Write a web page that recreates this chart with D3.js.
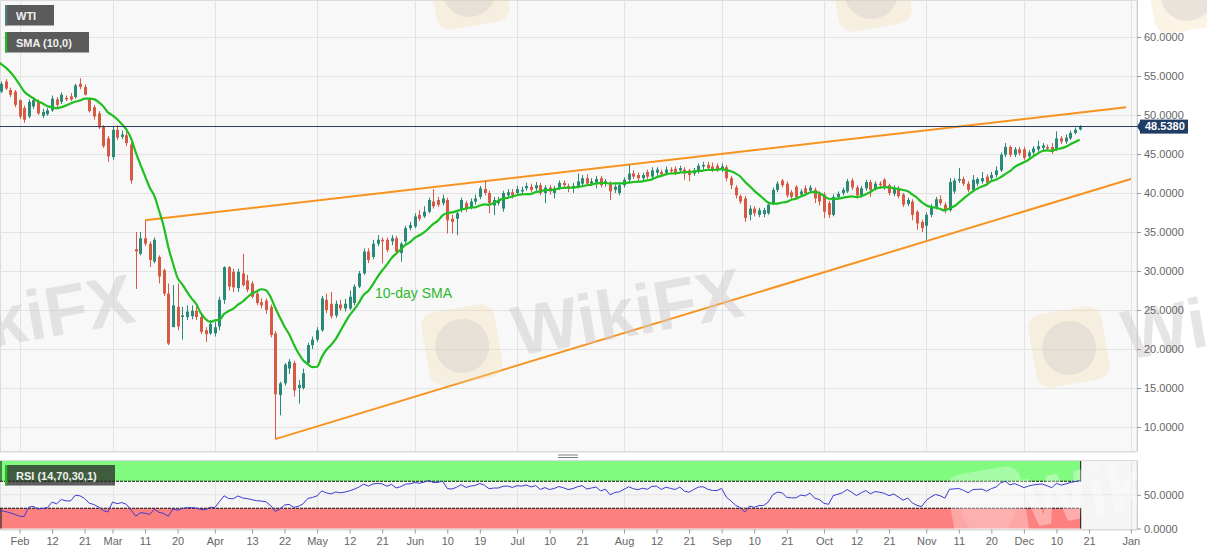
<!DOCTYPE html>
<html>
<head>
<meta charset="utf-8">
<script src="https://cdn.jsdelivr.net/npm/d3@7"></script>
<style>
  html, body { margin: 0; padding: 0; background: #fff; }
  svg { display: block; font-family: "Liberation Sans", Arial, sans-serif; }
</style>
</head>
<body>
<svg id="chart" width="1207" height="555"></svg>
<script>
// daily WTI candles, [open, high, low, close], one row per weekday
const jan = [
  [61.1,61.6,60.6,61.18],[61.2,64.1,61.1,63.05],[63.1,64.7,62.9,63.27],[63.3,63.8,62.3,62.70],
  [62.7,65.6,59.2,59.61],[59.6,60.2,58.9,59.56],[59.6,59.9,58.9,59.04],[59.0,59.2,57.8,58.08],
  [58.1,58.7,57.6,58.23],[58.2,58.5,57.3,57.81],[57.8,58.8,57.7,58.52],[58.5,59.0,58.3,58.54],
  [58.5,59.3,58.4,58.60],[58.6,59.7,57.7,58.34],[58.3,58.4,56.4,56.74],[56.7,56.8,54.8,55.59],
  [55.6,55.9,53.9,54.19],[53.4,53.6,52.1,53.14],[53.0,54.3,52.8,54.0],[54.3,54.6,53.2,53.4],
  [53.2,53.5,52.3,52.6],[53.0,53.2,51.0,51.3]
];
const feb = [
  [51.9,52.0,49.5,49.8],[50.9,51.2,49.0,49.4],[49.8,52.0,49.6,51.7],[51.1,52.3,50.8,51.9],
  [51.7,52.0,50.0,50.2],[49.9,50.8,49.6,50.4],[50.1,50.9,49.9,50.6],[50.6,52.5,50.4,52.1],
  [52.0,52.3,51.0,51.3],[51.7,52.9,51.4,52.6],[52.2,52.5,51.8,52.0],[52.4,52.8,51.8,52.0],
  [52.3,54.0,52.1,53.8],[54.0,54.7,53.3,53.6],[53.6,53.9,52.5,52.6],[52.0,52.2,50.3,50.5],
  [51.0,51.3,49.4,49.8],[50.2,50.5,48.2,48.4],[48.5,48.7,45.8,46.0],[47.0,47.3,44.0,44.7]
];
const mar = [
  [44.6,48.6,44.3,48.1],[48.1,48.7,46.8,47.1],[47.2,48.0,46.9,47.5],[47.4,47.8,46.0,46.4],
  [46.2,46.5,41.2,41.6],[32.8,35.0,27.7,32.5],[32.2,35.0,32.0,34.2],[34.2,36.5,33.2,33.5],
  [33.5,33.8,30.5,31.4],[31.2,34.3,31.0,34.0],[31.8,32.0,28.4,29.3],[30.1,30.3,26.8,27.1],
  [27.1,28.4,20.5,20.7],[22.8,28.2,22.8,25.6],[25.4,28.4,22.4,22.9],[24.1,25.4,21.2,24.3],
  [24.1,25.6,23.7,24.8],[24.2,25.6,23.8,24.9],[24.9,25.4,23.7,24.1],[24.1,24.4,21.9,22.2],
  [22.4,22.8,20.9,21.9],[22.0,23.7,21.8,23.2]
];
const apr = [
  [22.0,23.5,21.6,22.8],[22.9,26.7,22.4,26.3],[26.3,30.6,25.8,30.5],[30.5,30.6,27.5,28.0],
  [29.9,30.3,27.3,27.9],[27.8,30.3,27.3,29.9],[29.7,32.2,28.0,28.2],[28.8,29.5,27.3,27.6],
  [28.4,28.7,26.5,26.7],[27.1,27.5,25.6,25.9],[26.0,26.5,25.2,25.6],[26.2,26.5,24.5,25.0],
  [25.4,25.7,21.5,21.8],[22.0,22.3,8.45,14.2],[14.1,15.8,11.5,15.6],[15.6,18.2,15.3,18.0],
  [17.5,18.7,16.8,18.4],[18.2,18.5,13.9,14.7],[15.0,16.0,13.0,15.4],[15.0,17.5,14.8,16.9],
  [18.2,20.8,17.9,20.5],[20.5,21.6,20.0,21.2]
];
const may = [
  [21.2,22.8,20.9,22.4],[22.4,26.8,22.2,26.5],[26.3,27.1,24.6,25.0],[25.8,27.3,23.9,24.2],
  [24.3,26.2,24.0,25.8],[25.7,26.3,24.9,25.2],[25.2,26.4,24.8,25.8],[25.2,27.5,25.0,26.7],
  [25.9,28.3,25.6,28.0],[28.0,30.0,27.8,29.7],[29.7,32.9,29.5,32.5],[32.5,32.9,31.0,31.4],
  [31.8,34.0,31.5,33.5],[33.5,34.6,33.2,34.0],[34.0,34.3,31.0,33.8],[34.0,34.3,32.4,32.7],
  [33.8,34.6,33.3,34.2],[34.2,34.5,32.2,32.5],[32.3,33.7,31.2,33.5],[33.8,35.8,33.5,35.5],
  [35.5,36.3,35.2,35.9]
];
const jun = [
  [35.7,37.4,35.5,37.0],[37.2,37.8,36.4,36.7],[37.0,38.3,36.8,37.6],[37.6,39.4,37.4,39.1],
  [38.9,40.5,38.0,38.3],[39.1,39.5,38.2,38.5],[38.7,39.8,38.4,39.3],[39.1,39.4,34.8,36.5],
  [36.7,37.2,34.8,36.3],[36.7,37.8,34.6,37.4],[37.8,39.4,37.5,39.1],[38.7,39.0,37.6,38.0],
  [38.2,39.3,37.9,38.9],[38.9,39.8,38.5,39.3],[39.5,40.9,39.2,40.6],[40.5,41.6,39.7,40.0],
  [40.0,40.3,37.4,38.7],[38.4,39.5,37.2,39.1],[38.7,39.5,38.4,39.1],[38.0,40.3,37.6,40.0],
  [39.7,40.5,39.4,40.1],[40.1,40.5,39.3,39.7]
];
const jul = [
  [40.0,40.9,39.7,40.5],[40.2,40.8,39.9,40.4],[40.6,41.3,40.3,40.9],[40.8,41.2,40.1,40.4],
  [40.6,41.4,40.3,41.0],[41.0,41.3,39.7,40.0],[40.0,41.0,38.7,40.7],[40.7,41.0,39.8,40.2],
  [40.0,40.9,39.3,40.6],[40.7,41.6,40.4,41.3],[41.3,41.6,40.7,41.0],[40.9,41.2,40.1,40.6],
  [40.7,41.3,40.0,40.9],[40.9,42.5,40.6,41.5],[41.2,42.3,40.9,41.9],[41.9,42.4,40.9,41.2],
  [41.2,41.9,40.9,41.5],[41.4,42.2,40.6,41.8],[41.9,42.2,40.7,41.0],[41.2,41.8,40.8,41.5],
  [41.2,41.5,39.1,40.2],[40.4,41.1,40.0,40.8],[40.0,41.3,39.7,41.0]
];
const aug = [
  [41.0,42.0,40.7,41.7],[41.7,43.6,41.4,42.5],[42.5,42.9,41.8,42.1],[42.3,42.6,41.6,41.9],
  [41.9,42.6,41.6,42.3],[42.7,43.0,41.8,42.1],[42.1,43.3,41.8,42.9],[42.6,43.3,42.2,43.0],
  [42.7,43.0,42.1,42.4],[42.6,43.4,42.3,43.0],[43.0,43.3,42.5,42.8],[43.1,43.4,42.3,42.6],
  [42.9,43.5,42.6,43.2],[43.0,43.3,41.7,42.5],[42.9,43.1,41.5,42.3],[42.5,43.2,42.2,42.9],
  [42.8,43.8,42.5,43.5],[43.4,44.0,43.0,43.6],[43.6,44.0,42.9,43.2],[43.4,43.9,42.7,43.0],
  [43.5,43.8,42.7,43.0]
];
const sep = [
  [43.0,43.8,42.7,43.4],[43.3,43.6,41.5,41.9],[41.9,42.2,40.5,41.0],[40.7,41.0,39.3,39.7],
  [39.6,39.8,38.6,38.9],[39.3,39.6,36.3,36.8],[37.2,38.4,36.5,38.0],[38.0,38.3,37.0,37.4],
  [37.2,38.1,36.9,37.8],[37.3,38.1,36.9,37.8],[37.4,38.7,37.2,38.5],[38.7,40.7,38.5,40.4],
  [40.4,41.5,40.1,41.2],[41.6,41.8,40.7,41.0],[41.2,41.5,39.4,39.7],[40.1,40.4,39.2,39.5],
  [40.8,41.0,39.2,39.5],[39.8,40.5,39.5,40.2],[40.6,41.0,39.7,40.0],[40.3,41.0,40.0,40.7],
  [40.4,40.7,38.7,39.3],[39.9,40.2,38.4,38.9]
];
const oct = [
  [39.8,40.1,36.8,37.6],[38.7,39.0,36.8,37.2],[37.2,39.8,37.0,39.5],[39.5,40.2,39.2,39.9],
  [40.0,40.7,39.7,40.4],[40.2,41.8,40.0,41.5],[41.6,41.9,40.4,40.7],[40.7,41.0,39.3,39.7],
  [39.7,40.9,39.4,40.6],[40.6,41.7,40.3,41.4],[41.4,41.7,39.5,40.4],[40.6,41.5,40.3,41.2],
  [41.2,41.5,40.7,41.0],[41.7,41.9,40.4,40.7],[41.0,41.2,39.7,40.0],[39.9,41.0,39.6,40.5],
  [40.6,40.9,39.3,39.6],[39.8,40.0,38.2,38.5],[38.6,39.4,38.3,39.1],[38.9,39.2,36.5,37.2],
  [37.6,37.8,35.3,36.1],[36.3,36.6,35.0,35.5]
];
const nov = [
  [35.8,37.5,34.0,37.2],[37.2,38.6,36.9,38.3],[38.2,39.5,37.9,39.2],[39.2,39.7,38.4,38.7],
  [38.5,38.8,37.4,37.8],[37.8,41.9,37.6,41.4],[40.2,41.9,39.9,41.6],[41.6,43.2,41.3,41.8],
  [41.8,42.1,40.9,41.2],[41.2,41.5,40.1,40.4],[40.4,42.3,40.1,41.7],[41.2,42.0,40.9,41.8],
  [41.5,42.7,41.2,41.9],[42.1,42.4,41.0,41.3],[41.9,42.7,41.6,42.3],[42.3,43.4,42.0,42.9],
  [42.9,45.2,42.7,44.9],[44.9,46.4,44.6,45.9],[45.9,46.1,44.6,44.9],[44.9,45.9,44.6,45.6],
  [45.6,45.9,44.8,45.1]
];
const dec = [
  [45.6,45.9,44.2,44.5],[44.7,45.5,44.4,45.2],[45.2,46.0,44.9,45.7],[45.6,46.7,45.3,46.0],
  [45.8,46.4,45.5,46.1],[45.9,46.2,45.4,45.7],[45.9,46.4,45.0,45.3],[45.7,47.9,45.4,47.0],
  [47.0,47.3,46.3,46.6],[46.6,47.5,46.3,47.1],[47.0,48.0,46.8,47.7],[47.7,48.4,47.5,48.1],
  [48.15,48.7,48.0,48.538]
];

const priceTicks = [10, 15, 20, 25, 30, 35, 40, 45, 50, 55, 60];
const rsiTicks = [0, 50];
const tickDates = ["2020-02-03","2020-02-12","2020-02-21","2020-03-02","2020-03-11","2020-03-20",
  "2020-04-01","2020-04-13","2020-04-22","2020-05-01","2020-05-12","2020-05-21","2020-06-01",
  "2020-06-10","2020-06-19","2020-07-01","2020-07-10","2020-07-21","2020-08-03","2020-08-12",
  "2020-08-21","2020-09-01","2020-09-10","2020-09-21","2020-10-01","2020-10-12","2020-10-21",
  "2020-11-02","2020-11-11","2020-11-20","2020-12-01","2020-12-10","2020-12-21","2021-01-01"];
const tickLabels = ["Feb","12","21","Mar","11","20","Apr","13","22","May","12","21","Jun","10","19",
  "Jul","10","21","Aug","12","21","Sep","10","21","Oct","12","21","Nov","11","20","Dec","10","21","Jan"];
const monthStarts = ["2020-02-03","2020-03-02","2020-04-01","2020-05-01","2020-06-01","2020-07-01",
  "2020-08-03","2020-09-01","2020-10-01","2020-11-02","2020-12-01","2021-01-01"];
// trend lines: [date, price] end points
const upperLine = [["2020-03-11", 36.5], ["2020-12-31", 51.0]];
const lowerLine = [["2020-04-20", 8.45], ["2021-01-01", 41.8]];

// weekday calendar the bars sit on
const dates = [];
for (let d = new Date(2020, 0, 2); d <= new Date(2021, 0, 8); d.setDate(d.getDate() + 1)) {
  if (d.getDay() !== 0 && d.getDay() !== 6) dates.push(new Date(d));
}
const fmt = d3.timeFormat("%Y-%m-%d");
const idx = s => dates.findIndex(d => fmt(d) === s);

const bars = [].concat(jan, feb, mar, apr, may, jun, jul, aug, sep, oct, nov, dec)
  .map((r, k) => ({k: k, o: r[0], h: r[1], l: r[2], c: r[3]}));
const closes = bars.map(b => b.c);

function sma(vals, n) {
  return vals.map((v, k) => k < n - 1 ? null : d3.mean(vals.slice(k - n + 1, k + 1)));
}
function rsi(vals, n) {
  const out = vals.map(() => null);
  let g = 0, l = 0;
  for (let k = 1; k <= n; k++) {
    const ch = vals[k] - vals[k - 1];
    if (ch > 0) g += ch; else l -= ch;
  }
  g /= n; l /= n;
  out[n] = 100 - 100 / (1 + g / l);
  for (let k = n + 1; k < vals.length; k++) {
    const ch = vals[k] - vals[k - 1];
    g = (g * (n - 1) + Math.max(ch, 0)) / n;
    l = (l * (n - 1) + Math.max(-ch, 0)) / n;
    out[k] = l === 0 ? 100 : 100 - 100 / (1 + g / l);
  }
  return out;
}
const smaVals = sma(closes, 10);
const rsiVals = rsi(closes, 14);

const plotR = 1137;
const mainTop = 0, mainBot = 451.5, rsiTop = 461, rsiBot = 529.5;
const upCol = "#2a8a77", downCol = "#d65a44";

const k0 = idx("2020-02-03");
const x = d3.scaleLinear().domain([k0, k0 + 239]).range([19.5, 19.5 + 239 * 4.65]);
const y = d3.scaleLinear().domain([10, 60]).range([427, 37]);
const yr = d3.scaleLinear().domain([0, 100]).range([528.5, 461]);

const svg = d3.select("#chart");
const defs = svg.append("defs");
defs.append("clipPath").attr("id", "clipMain").append("rect")
  .attr("x", 0).attr("y", mainTop).attr("width", plotR).attr("height", mainBot - mainTop);
defs.append("clipPath").attr("id", "clipTop").append("rect")
  .attr("x", 0).attr("y", 0).attr("width", 1207).attr("height", mainBot);
defs.append("clipPath").attr("id", "clipRsi").append("rect")
  .attr("x", 0).attr("y", rsiTop).attr("width", plotR).attr("height", rsiBot - rsiTop);

// panel backgrounds
svg.append("rect").attr("x", 0.5).attr("y", 0.5).attr("width", plotR - 0.5).attr("height", mainBot - 0.5)
  .attr("fill", "#f8f8f8").attr("stroke", "#dcdcdc");
svg.append("rect").attr("x", 0.5).attr("y", rsiTop - 0.5).attr("width", plotR - 0.5).attr("height", rsiBot - rsiTop + 0.5)
  .attr("fill", "#f5f5f5").attr("stroke", "#dcdcdc");

// grid
const main = svg.append("g").attr("clip-path", "url(#clipMain)");
main.selectAll("line.hg").data(priceTicks).join("line")
  .attr("x1", 0).attr("x2", plotR).attr("y1", d => y(d) + 0.5).attr("y2", d => y(d) + 0.5)
  .attr("stroke", "#e3e3e3");
main.selectAll("line.vg").data(monthStarts).join("line")
  .attr("x1", d => Math.round(x(idx(d))) + 0.5).attr("x2", d => Math.round(x(idx(d))) + 0.5)
  .attr("y1", mainTop).attr("y2", mainBot).attr("stroke", "#e3e3e3");

// watermarks
function watermark(g, lx, ly, tx, ty, style) {
  if (lx != null) {
    const lg = g.append("g").attr("transform", `translate(${lx},${ly}) rotate(-10 37 37)`);
    lg.append("rect").attr("width", 74).attr("height", 74).attr("rx", 14)
      .attr("fill", style.box).attr("opacity", style.boxOp);
    lg.append("circle").attr("cx", 37).attr("cy", 38).attr("r", 27)
      .attr("fill", style.eagle).attr("opacity", style.eagleOp);
  }
  if (tx != null) {
    g.append("text").attr("transform", `translate(${tx},${ty}) rotate(-10)`)
      .attr("font-size", 70).attr("font-weight", "bold").attr("fill", style.text).attr("opacity", style.textOp)
      .text("WikiFX");
  }
}
const plainWm = {box: "#f2dca6", boxOp: 0.3, eagle: "#cfcac8", eagleOp: 0.4, text: "#d0cccb", textOp: 0.5};
const wmMain = svg.append("g").attr("clip-path", "url(#clipTop)");
watermark(wmMain, null, 0, -92, 362, plainWm);
watermark(wmMain, 425, 308, 517, 356, plainWm);
watermark(wmMain, 1032, 310, 1127, 360, plainWm);
watermark(wmMain, 432, -48, null, 0, plainWm);
watermark(wmMain, 834, -46, null, 0, plainWm);
watermark(wmMain, 1150, -44, null, 0, plainWm);

// trend lines
main.selectAll("line.trend").data([upperLine, lowerLine]).join("line")
  .attr("x1", d => x(idx(d[0][0]))).attr("y1", d => y(d[0][1]))
  .attr("x2", d => x(idx(d[1][0]))).attr("y2", d => y(d[1][1]))
  .attr("stroke", "#f7931e").attr("stroke-width", 2);

// candles
const candles = main.append("g").selectAll("g").data(bars).join("g")
  .attr("fill", d => d.c >= d.o ? upCol : downCol)
  .attr("stroke", d => d.c >= d.o ? upCol : downCol);
candles.append("line")
  .attr("x1", d => Math.round(x(d.k)) + 0.5).attr("x2", d => Math.round(x(d.k)) + 0.5)
  .attr("y1", d => y(d.h)).attr("y2", d => y(d.l)).attr("stroke-width", 1);
candles.append("rect")
  .attr("x", d => Math.round(x(d.k)) - 1).attr("width", 3)
  .attr("y", d => y(Math.max(d.o, d.c)))
  .attr("height", d => Math.max(1, Math.abs(y(d.o) - y(d.c))))
  .attr("stroke", "none");

// SMA
const smaLine = d3.line().defined(d => d != null).x((d, k) => x(k)).y(d => y(d)).curve(d3.curveMonotoneX);
main.append("path").datum(smaVals).attr("d", smaLine)
  .attr("fill", "none").attr("stroke", "#1fbf1f").attr("stroke-width", 2.2);

main.append("text").attr("x", 375).attr("y", 298).attr("font-size", 14)
  .attr("fill", "#2cb82c").text("10-day SMA");

// last price line
const last = bars[bars.length - 1].c;
svg.append("line").attr("x1", 0).attr("x2", plotR)
  .attr("y1", Math.round(y(last)) + 0.5).attr("y2", Math.round(y(last)) + 0.5)
  .attr("stroke", "#2a3f62").attr("stroke-width", 1);

// legend
function legendBox(lx, ly, w, label, stripe, fill) {
  svg.append("rect").attr("x", lx).attr("y", ly).attr("width", w).attr("height", 20.5).attr("fill", fill);
  svg.append("rect").attr("x", lx).attr("y", ly).attr("width", 2.2).attr("height", 20.5).attr("fill", stripe);
  svg.append("text").attr("x", lx + 11).attr("y", ly + 14.5).attr("font-size", 11)
    .attr("font-weight", "bold").attr("fill", "#f0f0f0").text(label);
}
legendBox(5, 5, 49, "WTI", "#4f8080", "#5b5b5b");
legendBox(5, 32, 84, "SMA (10,0)", "#22bb22", "#5b5b5b");

// right price axis
const yAxis = svg.append("g").attr("transform", `translate(${plotR},0)`)
  .call(d3.axisRight(y).tickValues(priceTicks).tickFormat(d3.format(".4f")).tickSize(4).tickPadding(3));
yAxis.select(".domain").attr("stroke", "#c9cdd4").attr("d", `M0.5,${mainTop}V${mainBot}`);
yAxis.selectAll(".tick line").attr("stroke", "#999");
yAxis.selectAll(".tick text").attr("fill", "#666").attr("font-size", 11).attr("font-family", null);

// price tag
const py = y(last);
const tag = svg.append("g");
tag.append("path").attr("d", `M${plotR},${py} L${plotR + 4},${py - 6.5} V${py + 6.5} Z`).attr("fill", "#1f3c64");
tag.append("rect").attr("x", plotR + 3).attr("y", py - 6.8).attr("width", 48).attr("height", 14).attr("fill", "#1f3c64");
tag.append("text").attr("x", plotR + 8).attr("y", py + 4).attr("font-size", 11).attr("font-weight", "bold")
  .attr("fill", "#fff").text(d3.format(".4f")(last));

// separator handle
svg.append("line").attr("x1", 0).attr("x2", plotR).attr("y1", mainBot + 0.5).attr("y2", mainBot + 0.5).attr("stroke", "#d8d8d8");
[455, 457.5].forEach(hy => svg.append("line").attr("x1", 558).attr("x2", 578).attr("y1", hy).attr("y2", hy)
  .attr("stroke", "#7a7a7a").attr("stroke-width", 1));

// RSI panel
const rp = svg.append("g").attr("clip-path", "url(#clipRsi)");
const xLast = x(bars[bars.length - 1].k) + 1;
rp.selectAll("line.vg").data(monthStarts).join("line")
  .attr("x1", d => Math.round(x(idx(d))) + 0.5).attr("x2", d => Math.round(x(idx(d))) + 0.5)
  .attr("y1", rsiTop).attr("y2", rsiBot).attr("stroke", "#e3e3e3");
rp.append("line").attr("x1", 0).attr("x2", plotR).attr("y1", yr(50)).attr("y2", yr(50)).attr("stroke", "#e3e3e3");
rp.append("rect").attr("x", 0).attr("y", yr(100)).attr("width", xLast).attr("height", yr(70) - yr(100)).attr("fill", "#80fb80");
rp.append("rect").attr("x", 0).attr("y", yr(30)).attr("width", xLast).attr("height", yr(0) - yr(30)).attr("fill", "#fd8080");
[70, 30].forEach(v => rp.append("line").attr("x1", 0).attr("x2", xLast).attr("y1", yr(v)).attr("y2", yr(v))
  .attr("stroke", "#111").attr("stroke-width", 1).attr("stroke-dasharray", "3,1"));
rp.append("path").attr("d", `M${xLast},${yr(100)}V${yr(70)}M${xLast},${yr(30)}V${yr(0)}M1,${yr(100)}V${yr(70)}M1,${yr(30)}V${yr(0)}`)
  .attr("stroke", "#111").attr("fill", "none");
const lightWm = {box: "#ffffff", boxOp: 0.3, eagle: "#ffffff", eagleOp: 0.12, text: "#ffffff", textOp: 0.35};
watermark(rp.append("g"), 951, 470, 1027, 528, lightWm);
const rsiLine = d3.line().defined(d => d != null).x((d, k) => x(k)).y(d => yr(d));
rp.append("path").datum(rsiVals).attr("d", rsiLine)
  .attr("fill", "none").attr("stroke", "#3a3ad0").attr("stroke-width", 1);

svg.append("rect").attr("x", 5).attr("y", 465).attr("width", 110).attr("height", 20.5).attr("fill", "rgba(40,40,40,0.75)");
svg.append("rect").attr("x", 5).attr("y", 465).attr("width", 2.2).attr("height", 20.5).attr("fill", "#22bb22");
svg.append("text").attr("x", 16).attr("y", 479.5).attr("font-size", 11).attr("font-weight", "bold")
  .attr("fill", "#f0f0f0").text("RSI (14,70,30,1)");

const rAxis = svg.append("g").attr("transform", `translate(${plotR},0)`)
  .call(d3.axisRight(yr).tickValues(rsiTicks).tickFormat(d3.format(".4f")).tickSize(4).tickPadding(3));
rAxis.select(".domain").attr("stroke", "#c9cdd4").attr("d", `M0.5,${rsiTop}V${rsiBot}`);
rAxis.selectAll(".tick line").attr("stroke", "#999");
rAxis.selectAll(".tick text").attr("fill", "#666").attr("font-size", 11).attr("font-family", null);

// time axis
const xAxis = svg.append("g").attr("transform", `translate(0,${rsiBot})`)
  .call(d3.axisBottom(x).tickValues(tickDates.map(idx))
    .tickFormat((d, i) => tickLabels[i]).tickSize(4).tickPadding(4));
xAxis.select(".domain").attr("stroke", "#d8d8d8").attr("d", `M0,0.5H${plotR}`);
xAxis.selectAll(".tick line").attr("stroke", "#999");
xAxis.selectAll(".tick text").attr("fill", "#666").attr("font-size", 11).attr("font-family", null);
</script>
</body>
</html>
